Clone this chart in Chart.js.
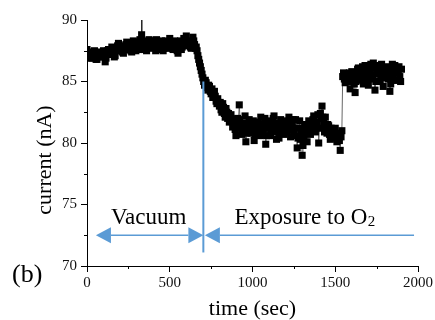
<!DOCTYPE html>
<html>
<head>
<meta charset="utf-8">
<script src="https://cdn.jsdelivr.net/npm/chart.js@4.4.1/dist/chart.umd.min.js"></script>
<style>
html,body{margin:0;padding:0;background:#fff;}
#wrap{width:435px;height:320px;position:relative;}
</style>
</head>
<body>
<div id="wrap"><canvas id="c" width="435" height="320"></canvas></div>
<script>
// time (sec)
const timeSec = [
  0,5,10,15,20,25,30,35,40,45,50,55,60,65,70,75,80,85,90,95,
  100,105,110,115,120,125,130,135,140,145,150,155,160,165,170,175,180,185,190,195,
  200,205,210,215,220,225,230,235,240,245,250,255,260,265,270,275,280,285,290,295,
  300,305,310,315,320,325,330,335,340,345,350,355,360,365,370,375,380,385,390,395,
  400,405,410,415,420,425,430,435,440,445,450,455,460,465,470,475,480,485,490,495,
  500,505,510,515,520,525,530,535,540,545,550,555,560,565,570,575,580,585,590,595,
  600,605,610,615,620,625,630,635,640,645,650,655,660,665,670,675,680,685,690,695,
  700,705,710,715,720,725,730,735,740,745,750,755,760,765,770,775,780,785,790,795,
  800,805,810,815,820,825,830,835,840,845,850,855,860,865,870,875,880,885,890,895,
  900,905,910,915,920,925,930,935,940,945,950,955,960,965,970,975,980,985,990,995,
  1000,1005,1010,1015,1020,1025,1030,1035,1040,1045,1050,1055,1060,1065,1070,1075,1080,1085,1090,1095,
  1100,1105,1110,1115,1120,1125,1130,1135,1140,1145,1150,1155,1160,1165,1170,1175,1180,1185,1190,1195,
  1200,1205,1210,1215,1220,1225,1230,1235,1240,1245,1250,1255,1260,1265,1270,1275,1280,1285,1290,1295,
  1300,1305,1310,1315,1320,1325,1330,1335,1340,1345,1350,1355,1360,1365,1370,1375,1380,1385,1390,1395,
  1400,1405,1410,1415,1420,1425,1430,1435,1440,1445,1450,1455,1460,1465,1470,1475,1480,1485,1490,1495,
  1500,1505,1510,1515,1520,1525,1530,1535,1540,1545,1550,1555,1560,1565,1570,1575,1580,1585,1590,1595,
  1600,1605,1610,1615,1620,1625,1630,1635,1640,1645,1650,1655,1660,1665,1670,1675,1680,1685,1690,1695,
  1700,1705,1710,1715,1720,1725,1730,1735,1740,1745,1750,1755,1760,1765,1770,1775,1780,1785,1790,1795,
  1800,1805,1810,1815,1820,1825,1830,1835,1840,1845,1850,1855,1860,1865,1870,1875,1880,1885,1890,1895,
  1900
];
// current (nA)
const currentNA = [
  87.6,87.3,87.0,87.4,87.2,86.9,86.9,87.2,87.3,87.5,87.1,86.8,86.8,87.1,87.2,87.0,87.4,87.1,87.0,87.3,
  87.5,87.2,86.6,86.9,87.3,87.5,87.6,87.3,87.2,87.6,87.8,87.5,87.4,87.0,87.1,87.5,87.6,87.9,88.1,87.7,
  87.5,87.8,87.9,87.4,87.3,87.6,87.7,88.0,88.2,87.8,87.6,87.9,87.9,87.5,87.4,87.9,88.3,88.0,87.8,87.5,
  88.0,88.2,87.6,87.9,88.4,88.1,88.8,88.3,87.9,87.6,88.2,88.0,87.5,87.8,88.0,88.4,88.3,87.9,87.7,88.1,
  88.1,88.3,87.8,87.5,88.4,88.1,87.6,87.9,88.0,88.2,88.3,88.0,87.5,87.7,87.9,88.3,88.2,87.8,87.7,88.0,
  88.5,88.2,88.0,87.7,87.6,88.0,88.3,88.1,87.9,87.5,87.3,87.6,88.1,88.3,87.6,87.8,88.0,88.5,88.4,88.1,
  88.7,88.3,87.9,88.1,88.2,87.8,87.7,88.0,88.6,88.3,88.0,87.7,87.8,87.5,87.1,86.8,86.5,86.2,85.9,85.6,
  85.3,85.0,84.7,85.1,84.9,84.5,84.3,84.7,84.6,84.2,84.0,84.4,83.7,83.9,84.2,83.8,83.4,83.2,83.6,83.3,
  83.0,83.3,82.7,82.5,83.2,82.9,82.4,82.1,82.8,82.5,82.0,82.4,81.7,82.0,82.3,81.8,81.3,81.6,81.9,81.1,
  80.6,81.5,82.0,81.7,83.1,81.9,81.2,80.7,80.9,81.5,81.6,82.2,80.1,80.8,81.4,81.0,81.9,81.3,80.8,81.6,
  81.0,81.8,80.2,80.7,81.7,81.3,80.9,81.6,81.4,80.6,82.1,81.3,80.7,81.0,81.5,82.0,79.9,80.6,81.2,81.7,
  81.8,81.2,80.6,81.0,81.3,82.0,82.2,81.5,80.9,80.3,81.6,81.1,80.4,80.9,81.9,81.4,81.1,81.8,80.7,81.3,
  81.7,80.9,81.0,81.6,82.1,81.4,80.5,81.1,81.4,81.9,80.8,81.2,81.9,80.6,79.6,80.4,81.2,81.8,80.3,80.9,
  79.0,79.8,80.6,81.3,81.5,80.8,80.1,80.9,81.8,81.2,80.7,81.5,81.3,81.9,82.2,81.4,80.9,81.6,81.7,82.3,
  80.0,81.2,82.4,82.0,83.0,82.1,81.6,80.9,82.1,81.4,80.8,81.5,81.4,80.7,80.3,81.2,81.0,80.4,80.5,80.9,
  81.2,80.6,80.1,80.8,80.7,80.2,79.4,80.5,81.0,85.4,85.7,85.2,84.9,85.6,85.5,85.0,85.2,85.7,84.4,85.3,
  85.8,85.4,85.3,84.8,84.1,85.0,85.6,86.0,86.1,85.5,85.1,85.7,85.9,86.2,84.8,85.3,86.3,85.8,85.4,85.0,
  84.7,85.5,86.0,86.4,85.5,85.2,86.5,86.1,84.3,85.0,85.7,86.3,86.2,85.6,85.0,85.5,86.4,86.0,84.6,85.3,
  85.8,86.2,86.1,85.4,85.2,85.9,84.2,84.8,86.0,86.4,85.6,85.1,86.3,85.8,85.1,85.7,85.9,86.2,85.4,85.0,
  86.0
];
// error spike near t = 331 s
const spikeTime = [331, 331];
const spikeValue = [88.9, 90.0];

const xTicks = [0, 500, 1000, 1500, 2000];
const yTicks = [70, 75, 80, 85, 90];
const xMinorTicks = [250, 750, 1250, 1750];
const yMinorTicks = [72.5, 77.5, 82.5, 87.5];

// annotation anchors (data units)
const switchTime = 703;
const switchLineTop = 85;
const switchLineBottom = 71.1;
const arrowLevel = 72.5;
const vacuumStart = 54;
const exposureEnd = 1976;

const SERIF = 'Liberation Serif';
const BLUE = 'rgb(91,155,213)';
Chart.defaults.font.family = SERIF;

const mainPoints = timeSec.map((t, i) => ({x: t, y: currentNA[i]}));
const spikePoints = spikeTime.map((t, i) => ({x: t, y: spikeValue[i]}));

const extras = {
  id: 'extras',
  afterDraw(chart) {
    const {ctx, scales: {x, y}} = chart;
    ctx.save();
    ctx.strokeStyle = '#000';
    ctx.lineWidth = 1;
    xMinorTicks.forEach(v => {
      const px = Math.round(x.getPixelForValue(v)) + 0.5;
      ctx.beginPath(); ctx.moveTo(px, y.bottom); ctx.lineTo(px, y.bottom + 3); ctx.stroke();
    });
    yMinorTicks.forEach(v => {
      const py = Math.round(y.getPixelForValue(v)) + 0.5;
      ctx.beginPath(); ctx.moveTo(x.left, py); ctx.lineTo(x.left - 3, py); ctx.stroke();
    });

    const sx = x.getPixelForValue(switchTime);
    ctx.strokeStyle = BLUE;
    ctx.fillStyle = BLUE;
    ctx.lineWidth = 2;
    ctx.beginPath();
    ctx.moveTo(sx, y.getPixelForValue(switchLineTop));
    ctx.lineTo(sx, y.getPixelForValue(switchLineBottom));
    ctx.stroke();

    const ay = y.getPixelForValue(arrowLevel);
    const headL = 15, headH = 8;
    function head(tipX, dir) {
      ctx.beginPath();
      ctx.moveTo(tipX, ay);
      ctx.lineTo(tipX + dir * headL, ay - headH);
      ctx.lineTo(tipX + dir * headL, ay + headH);
      ctx.closePath();
      ctx.fill();
    }
    ctx.lineWidth = 1.5;
    const vx0 = x.getPixelForValue(vacuumStart);
    ctx.beginPath(); ctx.moveTo(vx0 + headL, ay); ctx.lineTo(sx - headL, ay); ctx.stroke();
    head(vx0, 1);
    head(sx, -1);
    const ex0 = sx + 1.5;
    const ex1 = x.getPixelForValue(exposureEnd);
    ctx.beginPath(); ctx.moveTo(ex0 + headL, ay); ctx.lineTo(ex1, ay); ctx.stroke();
    head(ex0, 1);

    ctx.fillStyle = '#000';
    ctx.textBaseline = 'alphabetic';
    ctx.font = '23px "' + SERIF + '"';
    ctx.textAlign = 'center';
    ctx.fillText('Vacuum', x.getPixelForValue(373), y.getPixelForValue(73.4));
    ctx.textAlign = 'left';
    const exX = x.getPixelForValue(891), exY = y.getPixelForValue(73.4);
    const mainTxt = 'Exposure to O';
    ctx.fillText(mainTxt, exX, exY);
    const w = ctx.measureText(mainTxt).width;
    ctx.font = '15px "' + SERIF + '"';
    ctx.fillText('2', exX + w + 0.5, exY + 2);

    ctx.save();
    ctx.font = '22px "' + SERIF + '"';
    ctx.textAlign = 'center';
    ctx.textBaseline = 'middle';
    ctx.translate(45, (y.top + y.bottom) / 2 + 17);
    ctx.rotate(-Math.PI / 2);
    ctx.fillText('current (nA)', 0, 0);
    ctx.restore();

    ctx.font = '26px "' + SERIF + '"';
    ctx.textAlign = 'left';
    ctx.textBaseline = 'middle';
    ctx.fillText('(b)', 12, 275);
    ctx.restore();
  }
};

new Chart(document.getElementById('c'), {
  type: 'scatter',
  data: {
    datasets: [
      {
        data: spikePoints,
        showLine: true,
        borderColor: '#222',
        borderWidth: 1.5,
        pointRadius: 0,
        order: 2
      },
      {
        data: mainPoints,
        showLine: true,
        borderColor: '#666',
        borderWidth: 1,
        pointStyle: 'rect',
        pointRadius: 5,
        pointBorderWidth: 0,
        pointBackgroundColor: '#000',
        pointHoverRadius: 5,
        order: 1
      }
    ]
  },
  options: {
    responsive: false,
    animation: false,
    devicePixelRatio: 1,
    layout: {padding: {top: 20, right: 16, left: 0, bottom: 0}},
    plugins: {legend: {display: false}, tooltip: {enabled: false}},
    scales: {
      x: {
        type: 'linear',
        min: 0, max: 2000,
        afterBuildTicks: s => { s.ticks = xTicks.map(v => ({value: v})); },
        afterFit: s => { s.height = 54; },
        ticks: {font: {family: SERIF, size: 15}, color: '#111', padding: 2, maxRotation: 0, callback: v => String(v)},
        grid: {drawOnChartArea: false, drawTicks: true, tickLength: 6, color: '#000', tickWidth: 1},
        border: {display: true, color: '#000', width: 1},
        title: {display: true, text: 'time (sec)', font: {family: SERIF, size: 22, lineHeight: 1}, color: '#000', padding: {top: 0, bottom: 0}}
      },
      y: {
        min: 70, max: 90,
        afterBuildTicks: s => { s.ticks = yTicks.map(v => ({value: v})); },
        afterFit: s => { s.width = 87; },
        ticks: {font: {family: SERIF, size: 15}, color: '#111', padding: 4, callback: v => String(v)},
        grid: {drawOnChartArea: false, drawTicks: true, tickLength: 6, color: '#000', tickWidth: 1},
        border: {display: true, color: '#000', width: 1}
      }
    }
  },
  plugins: [extras]
});
</script>
</body>
</html>
